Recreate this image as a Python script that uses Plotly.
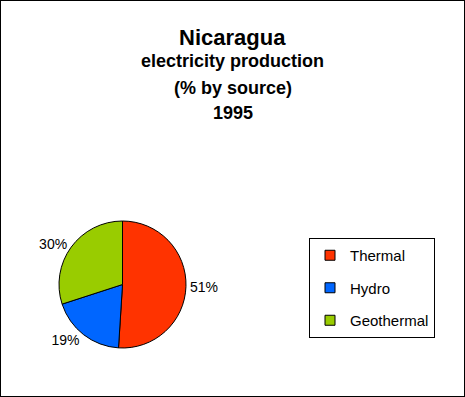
import plotly.graph_objects as go

sources = ["Thermal", "Hydro", "Geothermal"]
shares = [51, 19, 30]
colors = ["#FF3300", "#0066FF", "#99CC00"]
title_lines = ["Nicaragua", "electricity production", "(% by source)", "1995"]

W, H = 465, 397
FONT = "Liberation Sans, Arial, sans-serif"

# pie placement (pixels in the page): centre and radius
CX, CY, R = 122.5, 284.5, 63.5

fig = go.Figure()

fig.add_trace(go.Pie(
    labels=sources,
    values=shares,
    sort=False,
    direction="clockwise",
    rotation=0,
    marker=dict(colors=colors, line=dict(color="black", width=1)),
    textinfo="percent",
    textposition="outside",
    texttemplate="%{percent:.0%}",
    outsidetextfont=dict(family=FONT, size=14, color="black"),
    showlegend=False,
    hoverinfo="label+percent",
    domain=dict(x=[0.0, CX * 2 / W], y=[(H - CY - R) / H, (H - CY + R) / H]),
))

for i, (name, col) in enumerate(zip(sources, colors)):
    fig.add_trace(go.Scatter(
        x=[None], y=[None], mode="markers", name=name,
        legendgroup=name,
        marker=dict(symbol="square", size=10, color=col, line=dict(color="black", width=1)),
    ))

annotations = []
title_y = [37, 61.5, 87.5, 113.5]
title_sizes = [22, 18, 18, 18]
for txt, yy, sz in zip(title_lines, title_y, title_sizes):
    annotations.append(dict(
        text="<b>%s</b>" % txt, x=0.5, y=1 - yy / H, xref="paper", yref="paper",
        xanchor="center", yanchor="middle", showarrow=False,
        font=dict(family=FONT, size=sz, color="black"),
    ))

fig.update_layout(
    width=W, height=H,
    margin=dict(l=0, r=0, t=0, b=0, pad=0, autoexpand=False),
    paper_bgcolor="white", plot_bgcolor="white",
    xaxis=dict(visible=False), yaxis=dict(visible=False),
    annotations=annotations,
    legend=dict(
        x=309 / W, y=1 - 238 / H, xanchor="left", yanchor="top",
        bordercolor="black", borderwidth=1, bgcolor="white",
        font=dict(family=FONT, size=15, color="black"),
        tracegroupgap=10, traceorder="grouped",
    ),
    shapes=[dict(type="rect", xref="paper", yref="paper", x0=0, y0=0, x1=1, y1=1,
                 line=dict(color="black", width=2))],
    showlegend=True,
)

fig.write_html("out.html", config={"displayModeBar": False},
               post_script="document.body.style.margin='0';")
